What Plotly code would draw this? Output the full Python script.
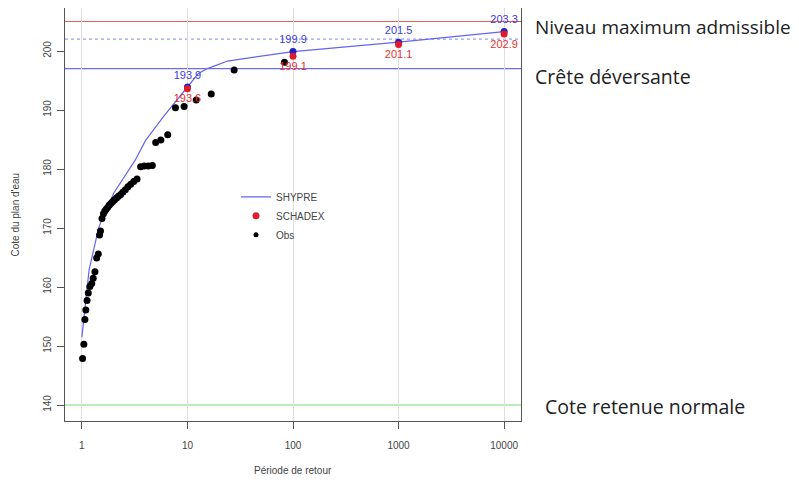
import plotly.graph_objects as go

# SHYPRE curve (return period, level)
shypre_T = [1, 1.17, 1.45, 2, 3.2, 4, 6, 7.6, 10, 12.7, 15.3, 17.6, 24, 37, 100, 1000, 10000]
shypre_v = [151.5, 162.9, 170.2, 175.9, 181.5, 184.8, 189.0, 191.2, 193.9, 196.2, 197.0, 197.4, 198.3, 198.8, 199.9, 201.5, 203.3]

# Labelled quantiles
q_T = [10, 100, 1000, 10000]
shypre_q = [193.9, 199.9, 201.5, 203.3]
schadex_q = [193.6, 199.1, 201.1, 202.9]

# Observations
obs_T = [1.015, 1.044, 1.068, 1.09, 1.12, 1.15, 1.19, 1.24, 1.28, 1.33, 1.38, 1.43,
         1.47, 1.50, 1.55, 1.60, 1.65, 1.70, 1.76, 1.82, 1.89, 1.96, 2.04, 2.13, 2.22,
         2.33, 2.45, 2.58, 2.73, 2.90, 3.10, 3.33, 3.60, 3.90, 4.25, 4.65, 5.0, 5.6,
         6.5, 7.7, 9.3, 12.1, 16.8, 27.7, 83]
obs_v = [147.9, 150.3, 154.5, 156.1, 157.7, 159.0, 160.1, 160.6, 161.5, 162.6, 164.9, 165.6,
         168.8, 169.5, 171.6, 172.4, 172.9, 173.2, 173.5, 173.9, 174.2, 174.5, 174.8, 175.1, 175.4,
         175.7, 176.1, 176.5, 177.0, 177.4, 177.9, 178.3, 180.4, 180.5, 180.5, 180.6, 184.5, 184.9,
         185.8, 190.4, 190.6, 191.7, 192.7, 196.8, 198.1]

# Reference levels
niveau_max = 205
dotted_level = 202
crete = 197
retenue = 140

x_ticks = [1, 10, 100, 1000, 10000]
y_ticks = [140, 150, 160, 170, 180, 190, 200]

AX = "#444444"
SANS = "Liberation Sans"

fig = go.Figure()

# horizontal reference lines
for lvl, col, dash in [(niveau_max, "#f05a5a", "solid"), (dotted_level, "#9aa0f0", "dot"),
                       (crete, "#6c6ce8", "solid"), (retenue, "#7ada7a", "solid")]:
    fig.add_hline(y=lvl, line=dict(color=col, width=1.2, dash=dash), layer="below")

fig.add_trace(go.Scatter(x=shypre_T, y=shypre_v, mode="lines", name="SHYPRE",
                         line=dict(color="#6464f0", width=1.2)))
fig.add_trace(go.Scatter(x=obs_T, y=obs_v, mode="markers", name="Obs", showlegend=False,
                         marker=dict(color="black", size=7)))
fig.add_trace(go.Scatter(x=q_T, y=shypre_q, mode="markers+text", showlegend=False,
                         text=[f"{v:.1f}" for v in shypre_q], textposition="top center",
                         textfont=dict(color="#3c3ce0", size=11, family=SANS),
                         marker=dict(color="#2020c8", size=7)))
fig.add_trace(go.Scatter(x=q_T, y=schadex_q, mode="markers+text", name="SCHADEX",
                         text=[f"{v:.1f}" for v in schadex_q], textposition="bottom center",
                         textfont=dict(color="#e83030", size=11, family=SANS),
                         marker=dict(color="#e01a2a", size=7)))
fig.add_trace(go.Scatter(x=[None], y=[None], mode="markers", name="Obs",
                         marker=dict(color="black", size=5)))

fig.update_xaxes(type="log", range=[-0.16, 4.16], tickvals=x_ticks, ticktext=[str(t) for t in x_ticks],
                 showgrid=True, gridcolor="#dedede", gridwidth=1, automargin=False,
                 showline=True, linecolor="#555555", linewidth=1, mirror=True,
                 ticks="outside", ticklen=7, tickcolor="#555555", zeroline=False,
                 ticklabelstandoff=8,
                 tickfont=dict(size=10, color=AX, family=SANS))
fig.update_yaxes(range=[137.29, 207.29], tickvals=y_ticks, showgrid=False, automargin=False,
                 showline=True, linecolor="#555555", linewidth=1, mirror=True,
                 ticks="outside", ticklen=7, tickcolor="#555555", zeroline=False, tickangle=-90,
                 ticklabelstandoff=2,
                 tickfont=dict(size=10, color=AX, family=SANS))

# axis titles
fig.add_annotation(x=0.5, xref="paper", y=0, yref="paper", yanchor="middle", yshift=-49,
                   text="Période de retour", showarrow=False,
                   font=dict(size=10, color=AX, family=SANS))
fig.add_annotation(x=0, xref="paper", y=0.5, yref="paper", xanchor="center", xshift=-50,
                   text="Cote du plan d'eau", textangle=-90, showarrow=False,
                   font=dict(size=10, color=AX, family=SANS))

for txt, yv, xoff, fs in [("Niveau maximum admissible", 204.1, 12, 19),
                          ("Crête déversante", 195.7, 12, 19.5),
                          ("Cote retenue normale", 139.8, 22, 19.5)]:
    fig.add_annotation(x=1, xref="paper", y=yv, yref="y", text=txt, showarrow=False,
                       xanchor="left", yanchor="middle", xshift=xoff,
                       font=dict(size=fs, color="#222222", family="Open Sans"))

fig.update_layout(width=791, height=475, margin=dict(l=57, r=278, t=0, b=62),
                  plot_bgcolor="white", paper_bgcolor="white",
                  legend=dict(x=0.375, y=0.578, xanchor="left", yanchor="top", bgcolor="rgba(0,0,0,0)",
                              font=dict(size=10, color=AX, family=SANS),
                              tracegroupgap=0, itemwidth=30),
                  showlegend=True)

fig.write_html("out.html")
